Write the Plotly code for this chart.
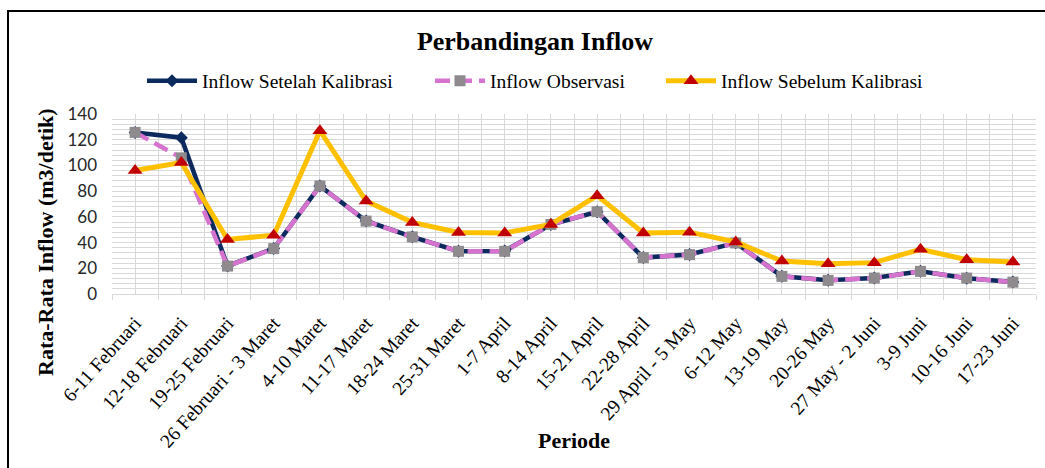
import plotly.graph_objects as go

periode = ["6-11 Februari", "12-18 Februari", "19-25 Februari", "26 Februari - 3 Maret",
           "4-10 Maret", "11-17 Maret", "18-24 Maret", "25-31 Maret", "1-7 April",
           "8-14 April", "15-21 April", "22-28 April", "29 April - 5 May", "6-12 May",
           "13-19 May", "20-26 May", "27 May - 2 Juni", "3-9 Juni", "10-16 Juni", "17-23 Juni"]

inflow_setelah = [125.7, 121.6, 21.8, 35.4, 84.0, 56.8, 44.5, 33.3, 33.4, 54.0,
                  64.0, 28.3, 30.7, 39.8, 13.8, 10.7, 12.5, 17.6, 12.3, 9.3]
inflow_observasi = [125.7, 105.9, 21.7, 35.3, 84.0, 56.7, 44.4, 33.2, 33.2, 54.1,
                    64.0, 28.3, 30.6, 39.7, 13.7, 10.6, 12.4, 17.6, 12.4, 9.2]
inflow_sebelum = [96.0, 102.3, 42.4, 45.7, 127.0, 72.3, 55.7, 47.9, 47.5, 54.1,
                  76.5, 47.5, 48.1, 40.5, 25.6, 23.6, 24.4, 34.8, 26.7, 24.9]

x_pos = list(range(len(periode)))

fig = go.Figure()
fig.add_trace(go.Scatter(
    x=x_pos, y=inflow_setelah, name="Inflow Setelah Kalibrasi", mode="lines+markers",
    line=dict(color="#0d2a5e", width=4.5),
    marker=dict(symbol="diamond", size=10, color="#0d2a5e"),
    legend="legend", showlegend=True))
fig.add_trace(go.Scatter(
    x=x_pos, y=inflow_observasi, name="Inflow Observasi", mode="lines+markers",
    line=dict(color="#d673cf", width=4.5, dash="15px,7px"),
    marker=dict(symbol="square", size=11, color="#8e8a8e"),
    legend="legend2", showlegend=True))
fig.add_trace(go.Scatter(
    x=x_pos, y=inflow_sebelum, name="Inflow Sebelum Kalibrasi", mode="lines+markers",
    line=dict(color="#ffc000", width=5),
    marker=dict(symbol="triangle-up", size=13, color="#c00000"),
    legend="legend3", showlegend=True))

L, R, T, B = 112, 9, 114, 174
W, H = 1045, 468
pw = W - L - R
ph = H - T - B


def px_x(p):
    return (p - L) / pw


def px_y(p):
    return (H - B - p) / ph


legend_font = dict(family="Liberation Serif", size=19.5, color="#000000")
leg_common = dict(orientation="h", yanchor="middle", xanchor="left", y=px_y(81),
                  font=legend_font, bgcolor="rgba(0,0,0,0)", itemwidth=50)

fig.update_layout(
    width=W, height=H, showlegend=True,
    margin=dict(l=L, r=R, t=T, b=B, autoexpand=False),
    paper_bgcolor="#ffffff", plot_bgcolor="#ffffff",
    title=dict(text="<b>Perbandingan Inflow</b>", x=535 / W, xref="container",
               y=1 - 41 / H, yref="container", xanchor="center", yanchor="middle",
               font=dict(family="Liberation Serif", size=26, color="#000000")),
    legend=dict(x=px_x(142), **leg_common),
    legend2=dict(x=px_x(430), **leg_common),
    legend3=dict(x=px_x(661), **leg_common),
    xaxis=dict(
        range=[-0.5, len(periode) - 0.5],
        tickmode="array", tickvals=x_pos, ticktext=periode, tickangle=-48,
        tickfont=dict(family="Liberation Serif", size=19.5, color="#000000"),
        ticklabelstandoff=9,
        showgrid=True, gridcolor="#d9d9d9", gridwidth=1,
        ticks="", showline=True, linecolor="#d9d9d9", linewidth=1,
        zeroline=False, automargin=False,
        minor=dict(tick0=-0.5, dtick=1, showgrid=True, gridcolor="#d9d9d9", gridwidth=1,
                   ticks="outside", ticklen=5, tickcolor="#d9d9d9", tickwidth=1),
    ),
    yaxis=dict(
        range=[0, 140], dtick=20, tick0=0,
        tickfont=dict(family="Lato", size=17, color="#262626"),
        ticklabelstandoff=14,
        showgrid=True, gridcolor="#d9d9d9", gridwidth=1,
        zeroline=False, showline=False, ticks="", automargin=False,
        minor=dict(dtick=4, showgrid=True, gridcolor="#d9d9d9", gridwidth=1),
    ),
    annotations=[
        dict(text="<b>Rata-Rata Inflow (m3/detik)</b>", xref="paper", yref="paper",
             x=px_x(45), y=px_y(242), textangle=-90, showarrow=False,
             xanchor="center", yanchor="middle",
             font=dict(family="Liberation Serif", size=22, color="#000000")),
        dict(text="<b>Periode</b>", xref="paper", yref="paper",
             x=px_x(574), y=px_y(440), showarrow=False,
             xanchor="center", yanchor="middle",
             font=dict(family="Liberation Serif", size=22, color="#000000")),
    ],
    shapes=[
        dict(type="rect", xref="paper", yref="paper",
             x0=px_x(8), x1=px_x(1060), y0=px_y(490), y1=px_y(11),
             line=dict(color="#000000", width=2), fillcolor="rgba(0,0,0,0)", layer="below"),
    ],
)

fig.write_html("out.html", config={"displayModeBar": False},
               post_script="document.body.style.margin='0';document.body.style.overflow='hidden';")
